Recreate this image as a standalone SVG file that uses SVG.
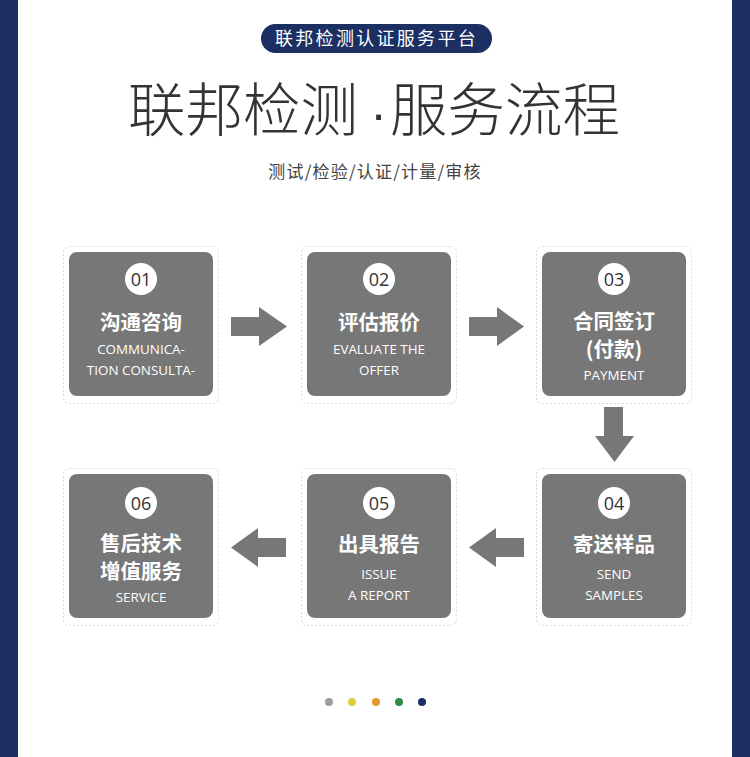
<svg xmlns="http://www.w3.org/2000/svg" width="750" height="757" viewBox="0 0 750 757">
<style>
.frame{fill:#fff;stroke:#d9d9d9;stroke-width:1;stroke-dasharray:2 2}
.box{fill:#777777}
.num-c{fill:#ffffff}
.num{font-family:"Open Sans","Noto Sans",sans-serif;font-size:18px;fill:#333;text-anchor:middle}
.ttl{font-family:"Noto Sans CJK SC","Noto Sans",sans-serif;font-weight:700;font-size:20.5px;fill:#fff;text-anchor:middle}
.en{font-family:"Open Sans","Noto Sans",sans-serif;font-size:13.4px;fill:#fff;text-anchor:middle}
.arrow{fill:#777777}
.big{font-family:"Noto Sans CJK SC","Noto Sans",sans-serif;font-weight:300;font-size:57.5px;fill:#333}
</style>
<rect x="0" y="0" width="750" height="757" fill="#ffffff"/>
<rect x="0" y="0" width="18" height="757" fill="#1b2f63"/>
<rect x="732" y="0" width="18" height="757" fill="#1b2f63"/>

<g id="header">
<rect x="261" y="24" width="231" height="29" rx="14.5" fill="#1b2f63"/>
<text x="376.5" y="45" font-family="'Noto Sans CJK SC','Noto Sans',sans-serif" font-size="18" letter-spacing="2.3" fill="#fff" text-anchor="middle">联邦检测认证服务平台</text>
<text class="big" x="128" y="131">联邦检测</text>
<text x="378.5" y="131" font-family="'Liberation Sans',Arial,sans-serif" font-size="50" fill="#333" text-anchor="middle">·</text>
<text class="big" x="390" y="131">服务流程</text>
<text x="375" y="178" font-family="'Noto Sans CJK SC','Noto Sans',sans-serif" font-size="17" letter-spacing="1.2" fill="#444" text-anchor="middle">测试/检验/认证/计量/审核</text>
</g>

<g id="node1">
<rect class="frame" x="63.5" y="246.5" width="155" height="157" rx="6"/>
<rect class="box" x="69" y="252" width="144" height="144" rx="8"/>
<circle class="num-c" cx="141" cy="279" r="16"/>
<text class="num" x="141" y="285.5">01</text>
<text class="ttl" x="141" y="330">沟通咨询</text>
<text class="en"><tspan x="141" y="354">COMMUNICA-</tspan><tspan x="141" y="375">TION CONSULTA-</tspan></text>
</g>

<g id="node2">
<rect class="frame" x="301.5" y="246.5" width="155" height="157" rx="6"/>
<rect class="box" x="307" y="252" width="144" height="144" rx="8"/>
<circle class="num-c" cx="379" cy="279" r="16"/>
<text class="num" x="379" y="285.5">02</text>
<text class="ttl" x="379" y="330">评估报价</text>
<text class="en"><tspan x="379" y="354">EVALUATE THE</tspan><tspan x="379" y="375">OFFER</tspan></text>
</g>

<g id="node3">
<rect class="frame" x="536.5" y="246.5" width="155" height="157" rx="6"/>
<rect class="box" x="542" y="252" width="144" height="144" rx="8"/>
<circle class="num-c" cx="614" cy="279" r="16"/>
<text class="num" x="614" y="285.5">03</text>
<text class="ttl"><tspan x="614" y="329">合同签订</tspan><tspan x="614" y="356.5">(付款)</tspan></text>
<text class="en" x="614" y="379.5">PAYMENT</text>
</g>

<g id="node4">
<rect class="frame" x="536.5" y="468.5" width="155" height="157" rx="6"/>
<rect class="box" x="542" y="474" width="144" height="144" rx="8"/>
<circle class="num-c" cx="614" cy="503" r="16"/>
<text class="num" x="614" y="509.5">04</text>
<text class="ttl" x="614" y="552">寄送样品</text>
<text class="en"><tspan x="614" y="579">SEND</tspan><tspan x="614" y="600">SAMPLES</tspan></text>
</g>

<g id="node5">
<rect class="frame" x="301.5" y="468.5" width="155" height="157" rx="6"/>
<rect class="box" x="307" y="474" width="144" height="144" rx="8"/>
<circle class="num-c" cx="379" cy="503" r="16"/>
<text class="num" x="379" y="509.5">05</text>
<text class="ttl" x="379" y="552">出具报告</text>
<text class="en"><tspan x="379" y="579">ISSUE</tspan><tspan x="379" y="600">A REPORT</tspan></text>
</g>

<g id="node6">
<rect class="frame" x="63.5" y="468.5" width="155" height="157" rx="6"/>
<rect class="box" x="69" y="474" width="144" height="144" rx="8"/>
<circle class="num-c" cx="141" cy="503" r="16"/>
<text class="num" x="141" y="509.5">06</text>
<text class="ttl"><tspan x="141" y="551">售后技术</tspan><tspan x="141" y="579">增值服务</tspan></text>
<text class="en" x="141" y="601.5">SERVICE</text>
</g>

<g id="connectors">
<polygon class="arrow" points="231,317 259,317 259,307 287,326.5 259,346 259,336 231,336"/>
<polygon class="arrow" points="469,317 497,317 497,307 524,326.5 497,346 497,336 469,336"/>
<polygon class="arrow" points="604,407 623,407 623,436 634,436 614.5,462 595,436 604,436"/>
<polygon class="arrow" points="524,538 496,538 496,528 469,547.5 496,567 496,557 524,557"/>
<polygon class="arrow" points="286,538 258,538 258,528 231,547.5 258,567 258,557 286,557"/>
</g>

<g id="dots">
<circle cx="329" cy="702" r="4" fill="#9e9e9e"/>
<circle cx="352" cy="702" r="4" fill="#dccf3a"/>
<circle cx="376" cy="702" r="4" fill="#e39a2c"/>
<circle cx="399" cy="702" r="4" fill="#2f8a45"/>
<circle cx="422" cy="702" r="4" fill="#1b2d6b"/>
</g>
</svg>
